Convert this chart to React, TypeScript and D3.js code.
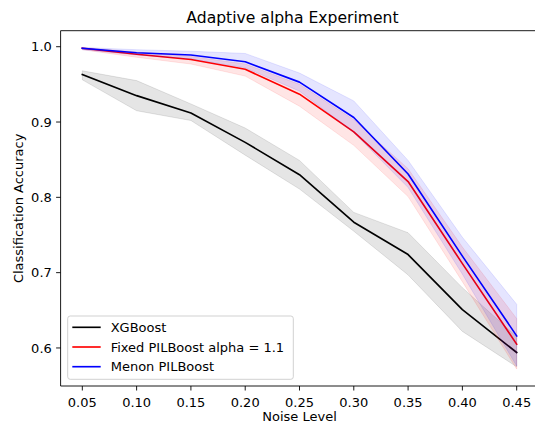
import React from "react";
import * as d3 from "d3";

const noise = [0.05, 0.1, 0.15, 0.2, 0.25, 0.3, 0.35, 0.4, 0.45];
const xgbMean = [0.963, 0.935, 0.912, 0.873, 0.83, 0.767, 0.724, 0.651, 0.594];
const xgbLo = [0.956, 0.915, 0.902, 0.856, 0.811, 0.755, 0.697, 0.622, 0.575];
const xgbHi = [0.968, 0.955, 0.924, 0.892, 0.849, 0.78, 0.753, 0.68, 0.615];
const fixedMean = [0.998, 0.99, 0.983, 0.97, 0.937, 0.887, 0.821, 0.712, 0.605];
const fixedLo = [0.996, 0.986, 0.977, 0.961, 0.921, 0.869, 0.801, 0.688, 0.572];
const fixedHi = [0.999, 0.993, 0.987, 0.977, 0.95, 0.903, 0.838, 0.734, 0.639];
const menonMean = [0.998, 0.992, 0.989, 0.98, 0.953, 0.906, 0.831, 0.722, 0.616];
const menonLo = [0.996, 0.989, 0.984, 0.972, 0.941, 0.886, 0.813, 0.698, 0.576];
const menonHi = [0.999, 0.996, 0.994, 0.991, 0.965, 0.928, 0.849, 0.747, 0.658];
const xTicks = [0.05, 0.1, 0.15, 0.2, 0.25, 0.3, 0.35, 0.4, 0.45];
const yTicks = [0.6, 0.7, 0.8, 0.9, 1.0];
const seriesNames = ["XGBoost", "Fixed PILBoost alpha = 1.1", "Menon PILBoost"];
const seriesColors = ["#000000", "#ff0000", "#0000ff"];

const W = 535;
const H = 424;
const L = 60.6;
const R = 538.4;
const T = 30.7;
const B = 386;
const FONT = "DejaVu Sans, sans-serif";
const FS = 13;

export default function App() {
  const x = d3.scaleLinear().domain([0.03, 0.47]).range([L, R]);
  const y = d3.scaleLinear().domain([0.5495, 1.02125]).range([B, T]);

  const series = [
    { mean: xgbMean, lo: xgbLo, hi: xgbHi },
    { mean: fixedMean, lo: fixedLo, hi: fixedHi },
    { mean: menonMean, lo: menonLo, hi: menonHi },
  ];

  const line = (vals: number[]) =>
    d3
      .line<number>()
      .x((_, i) => x(noise[i]))
      .y((v) => y(v))(vals) || "";
  const area = (lo: number[], hi: number[]) =>
    d3
      .area<number>()
      .x((_, i) => x(noise[i]))
      .y0((_, i) => y(lo[i]))
      .y1((_, i) => y(hi[i]))(noise) || "";

  const legX = 67.7;
  const legY = 316;
  const legW = 225.6;
  const legH = 63.3;
  const rowY = [327.3, 347, 366.7];

  return (
    <svg
      width={W}
      height={H}
      style={{ position: "absolute", left: 0, top: 0, display: "block", background: "#fff" }}
      fontFamily={FONT}
    >
      <rect x={0} y={0} width={W} height={H} fill="#fff" />
      {series.map((s, k) => (
        <g key={k}>
          <path
            d={area(s.lo, s.hi)}
            fill={seriesColors[k]}
            fillOpacity={0.1}
            stroke={seriesColors[k]}
            strokeOpacity={0.1}
            strokeWidth={1}
          />
          <path
            d={line(s.mean)}
            fill="none"
            stroke={seriesColors[k]}
            strokeWidth={1.65}
            strokeLinejoin="round"
            strokeLinecap="square"
          />
        </g>
      ))}
      <g stroke="#000" strokeWidth={0.9} fill="none">
        <line x1={L} y1={T} x2={R} y2={T} />
        <line x1={L} y1={B} x2={R} y2={B} />
        <line x1={L} y1={T} x2={L} y2={B} />
        <line x1={R} y1={T} x2={R} y2={B} />
      </g>
      {xTicks.map((t) => (
        <g key={"x" + t}>
          <line x1={x(t)} x2={x(t)} y1={B} y2={B + 4.5} stroke="#000" strokeWidth={0.9} />
          <text x={x(t)} y={407.3} fontSize={FS} textAnchor="middle" fill="#000">
            {t.toFixed(2)}
          </text>
        </g>
      ))}
      {yTicks.map((t) => (
        <g key={"y" + t}>
          <line x1={L - 4.5} x2={L} y1={y(t)} y2={y(t)} stroke="#000" strokeWidth={0.9} />
          <text x={51.8} y={y(t) + 4.75} fontSize={FS} textAnchor="end" fill="#000">
            {t.toFixed(1)}
          </text>
        </g>
      ))}
      <text x={292.5} y={22.7} fontSize={15.6} textAnchor="middle" fill="#000">
        Adaptive alpha Experiment
      </text>
      <text x={(L + R) / 2} y={420.8} fontSize={FS} textAnchor="middle" fill="#000">
        Noise Level
      </text>
      <text
        transform={`translate(23,${(T + B) / 2}) rotate(-90)`}
        fontSize={FS}
        textAnchor="middle"
        fill="#000"
      >
        Classification Accuracy
      </text>
      <rect
        x={legX}
        y={legY}
        width={legW}
        height={legH}
        rx={2.5}
        ry={2.5}
        fill="#fff"
        fillOpacity={0.8}
        stroke="#cccccc"
        strokeWidth={0.9}
      />
      {seriesNames.map((name, k) => (
        <g key={name}>
          <line
            x1={72.3}
            x2={100.7}
            y1={rowY[k]}
            y2={rowY[k]}
            stroke={seriesColors[k]}
            strokeWidth={1.65}
          />
          <text x={110.7} y={rowY[k] + 4.75} fontSize={FS} fill="#000">
            {name}
          </text>
        </g>
      ))}
    </svg>
  );
}
